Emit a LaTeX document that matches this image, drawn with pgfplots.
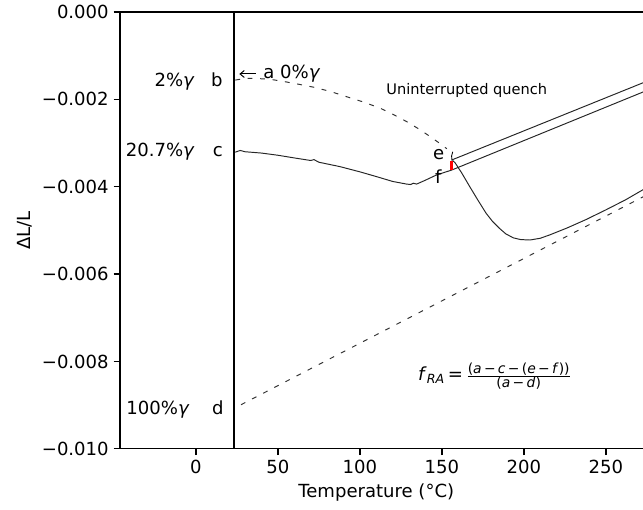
\documentclass[border=0pt]{standalone}
\usepackage{pgfplots}
\pgfplotsset{compat=1.18}
\usepackage{fontspec}
\setmainfont{DejaVu Sans}
\usetikzlibrary{arrows.meta}
\newcommand{\fs}{\fontsize{13}{15}\selectfont}
\begin{document}
\begin{tikzpicture}
\begin{axis}[
  at={(0,0)}, anchor=south west,
  scale only axis, width=385.3pt, height=314.6pt,
  xmin=-46.3, xmax=280, ymin=-0.01, ymax=0,
  axis line style={black, line width=0.9pt},
  xtick={0,50,100,150,200,250},
  xticklabels={0,50,100,150,200,250},
  ytick={-0.01,-0.008,-0.006,-0.004,-0.002,0},
  yticklabels={−0.010,−0.008,−0.006,−0.004,−0.002,0.000},
  scaled y ticks=false,
  tick align=outside, major tick length=4.6pt,
  xtick pos=lower, ytick pos=left,
  tick style={black, line width=0.9pt},
  ticklabel style={font=\fs},
  xlabel={Temperature (°C)}, ylabel={ΔL/L},
  label style={font=\fs},
  xlabel style={at={(ticklabel cs:0.479)}},
]
% room temperature line
\addplot[black, line width=1.5pt] coordinates {(23.5,-0.011) (23.5,0.001)};
% uninterrupted quench (dashed)
\addplot[black!80, line width=0.7pt, dash pattern=on 3.5pt off 5.5pt] coordinates {
(24,-0.00156) (30,-0.00152) (35,-0.00152) (45,-0.00154) (53.3,-0.00159) (62,-0.00165)
(71.5,-0.00172) (82,-0.00182) (91.9,-0.00194) (102,-0.00206) (112.2,-0.00220) (120,-0.00234)
(128.5,-0.00251) (136,-0.00268) (142.7,-0.00285) (148,-0.00299) (153,-0.00313)};
% 100% austenite line (dashed)
\addplot[black!80, line width=0.7pt, dash pattern=on 3.5pt off 5.5pt] coordinates {(27.5,-0.00899) (280,-0.00409)};
% interrupted quench + reheating
\addplot[black!85, line width=0.7pt] coordinates {
(24.0,-0.00321) (27,-0.00317) (30,-0.00320) (40,-0.00323) (50,-0.00328) (61.4,-0.00335)
(70,-0.00340) (72,-0.00338) (75,-0.00344) (87.8,-0.00354) (100,-0.00366) (110.2,-0.00377)
(120,-0.00388) (128.5,-0.00394) (131,-0.00395) (132.5,-0.00392) (134.6,-0.00394) (140,-0.00385)
(146.8,-0.00373) (155.9,-0.00362) (280,-0.00172)};
\addplot[black!85, line width=0.7pt] coordinates {(155.9,-0.00339) (280,-0.00151)};
\addplot[black!85, line width=0.7pt] coordinates {
(156.5,-0.00340) (158,-0.00345) (162,-0.00368) (167,-0.00400) (172,-0.00431) (177,-0.00461)
(181,-0.00480) (185,-0.00495) (189,-0.00508) (193.5,-0.00517) (198,-0.00521) (203.7,-0.00522)
(210,-0.00518) (216,-0.00510) (226,-0.00495) (238,-0.00475) (250,-0.00453) (262,-0.00430)
(272.6,-0.00407) (280,-0.00392)};
\addplot[black, line width=0.6pt] coordinates {(156.6,-0.00320) (155.9,-0.00330) (156.2,-0.00340)};
\addplot[red, line width=1.6pt] coordinates {(155.9,-0.00342) (155.9,-0.00362)};
% arrow to a
\addplot[black, line width=0.7pt, -{Straight Barb[length=3pt,width=5pt]}] coordinates {(36.6,-0.00142) (26.5,-0.00142)};
% annotations
\node[anchor=base west, inner sep=0, font=\fs] at (axis cs:41,-0.00152) {a 0\%\textit{γ}};
\node[anchor=base east, inner sep=0, font=\fs] at (axis cs:-0.6,-0.00171) {2\%\textit{γ}};
\node[anchor=base east, inner sep=0, font=\fs] at (axis cs:16.5,-0.00171) {b};
\node[anchor=base east, inner sep=0, font=\fs] at (axis cs:-0.6,-0.00331) {20.7\%\textit{γ}};
\node[anchor=base east, inner sep=0, font=\fs] at (axis cs:16.5,-0.00331) {c};
\node[anchor=base east, inner sep=0, font=\fs] at (axis cs:-3.7,-0.00922) {100\%\textit{γ}};
\node[anchor=base east, inner sep=0, font=\fs] at (axis cs:17,-0.00922) {d};
\node[anchor=base west, inner sep=0, font=\fontsize{10.5}{12}\selectfont] at (axis cs:116,-0.0019) {Uninterrupted quench};
\node[anchor=base west, inner sep=0, font=\fs] at (axis cs:144.5,-0.00337) {e};
\node[anchor=base west, inner sep=0, font=\fs] at (axis cs:145.7,-0.00392) {f};
\node[anchor=west, inner sep=0, font=\fs] at (axis cs:135.4,-0.00833)
  {\textit{f}\textsubscript{\textit{RA}}\,=\,$\frac{\hbox{\fontsize{10}{11}\selectfont(\textit{a}\,−\,\textit{c}\,−\,(\textit{e}\,−\,\textit{f}))}}{\hbox{\fontsize{10}{11}\selectfont(\textit{a}\,−\,\textit{d})}}$};
\end{axis}
\pgfresetboundingbox
\path[use as bounding box] (-86.4pt,-43.9pt) rectangle (376.6pt,323.2pt);
\end{tikzpicture}
\end{document}
